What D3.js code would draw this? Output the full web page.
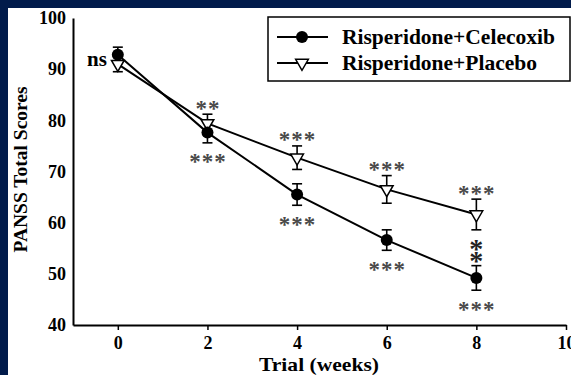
<!DOCTYPE html>
<html>
<head>
<meta charset="utf-8">
<script src="https://cdn.jsdelivr.net/npm/d3@7/dist/d3.min.js"></script>
<style>
  html, body { margin: 0; padding: 0; background: #011b4b; }
  svg { display: block; }
  text { font-family: "Liberation Serif", "Times New Roman", serif; font-weight: bold; fill: #000; }
</style>
</head>
<body>
<svg id="chart" width="571" height="375"></svg>
<script>
// ---- data ----
const weeks = [0, 2, 4, 6, 8];
const celecoxib = [92.8, 77.6, 65.5, 56.6, 49.2];
const celecoxibErr = [1.5, 2.0, 2.1, 2.0, 2.4];
const placebo = [91.0, 79.4, 72.7, 66.5, 61.6];
const placeboErr = [1.5, 1.8, 2.3, 2.7, 3.0];
const placeboSig = ["", "**", "***", "***", "***"];
const celecoxibSig = ["", "***", "***", "***", "***"];
const groupSig = ["ns", "", "", "", "**"];
const seriesNames = ["Risperidone+Celecoxib", "Risperidone+Placebo"];
const xTicks = [0, 2, 4, 6, 8, 10];
const yTicks = [40, 50, 60, 70, 80, 90, 100];

const svg = d3.select("#chart");
const W = 571, H = 375;
const FONT = "'Liberation Serif', 'Times New Roman', serif";

// white panel
svg.append("rect").attr("x", 8).attr("y", 8).attr("width", W - 8).attr("height", H - 8).attr("fill", "#fff");

const x = d3.scaleLinear().domain([-1, 10]).range([73, 566]);
const y = d3.scaleLinear().domain([40, 100]).range([325, 18]);

// axes
const xAxis = d3.axisBottom(x).tickValues(xTicks).tickSize(5).tickSizeOuter(0).tickPadding(6);
const gx = svg.append("g").attr("transform", `translate(0,${y(40)})`).call(xAxis)
  .attr("font-family", FONT).attr("font-size", 18);
gx.select(".domain").attr("stroke", "#000").attr("stroke-width", 2);
gx.selectAll(".tick line").attr("stroke", "#000").attr("stroke-width", 1.5);
gx.selectAll(".tick text").attr("fill", "#000").style("font-family", FONT).style("font-size", "18px");

const yAxis = d3.axisLeft(y).tickValues(yTicks).tickSize(0).tickSizeOuter(0).tickPadding(7);
const gy = svg.append("g").attr("transform", `translate(${x(-1)},0)`).call(yAxis)
  .attr("font-family", FONT).attr("font-size", 18);
gy.select(".domain").attr("stroke", "#000").attr("stroke-width", 2);
gy.selectAll(".tick text").attr("fill", "#000").style("font-family", FONT).style("font-size", "18px");

// axis titles
svg.append("text").attr("x", 319).attr("y", 370.5).attr("text-anchor", "middle")
  .attr("font-size", 19.5).attr("textLength", 120).attr("lengthAdjust", "spacingAndGlyphs")
  .text("Trial (weeks)");
svg.append("text").attr("transform", `translate(27,${(y(40) + y(100)) / 2 - 2}) rotate(-90)`)
  .attr("text-anchor", "middle").attr("font-size", 19.5).text("PANSS Total Scores");

// series
const line = d3.line().x(d => x(d[0])).y(d => y(d[1]));
const celData = weeks.map((w, i) => [w, celecoxib[i], celecoxibErr[i]]);
const plaData = weeks.map((w, i) => [w, placebo[i], placeboErr[i]]);

function errorBars(data) {
  const g = svg.append("g").attr("stroke", "#000").attr("stroke-width", 1.6);
  data.forEach(d => {
    const cx = x(d[0]);
    g.append("line").attr("x1", cx).attr("x2", cx).attr("y1", y(d[1] - d[2])).attr("y2", y(d[1] + d[2]));
    [d[1] - d[2], d[1] + d[2]].forEach(v => {
      g.append("line").attr("x1", cx - 5).attr("x2", cx + 5).attr("y1", y(v)).attr("y2", y(v));
    });
  });
}
errorBars(plaData);
errorBars(celData);

svg.append("path").datum(plaData).attr("d", line).attr("fill", "none").attr("stroke", "#000").attr("stroke-width", 2);
svg.append("path").datum(celData).attr("d", line).attr("fill", "none").attr("stroke", "#000").attr("stroke-width", 2);

const tri = d3.symbol().type(d3.symbolTriangle).size(70);
svg.selectAll(".tri").data(plaData).join("path")
  .attr("transform", d => `translate(${x(d[0])},${y(d[1])}) rotate(180)`)
  .attr("d", tri).attr("fill", "#fff").attr("stroke", "#000").attr("stroke-width", 1.5);
svg.selectAll(".dot").data(celData).join("circle")
  .attr("cx", d => x(d[0])).attr("cy", d => y(d[1])).attr("r", 6).attr("fill", "#000");

// significance marks
function star(text, cx, cy, fs, color, ls) {
  svg.append("text").attr("x", cx + ls / 2).attr("y", cy + fs * 0.5).attr("text-anchor", "middle")
    .attr("font-size", fs).attr("font-weight", "normal").attr("letter-spacing", ls)
    .style("fill", color).text(text);
}
weeks.forEach((w, i) => {
  if (placeboSig[i]) star(placeboSig[i], x(w), y(placebo[i] + placeboErr[i]) - 10, 23, "#4a4a4a", 1);
  if (celecoxibSig[i]) star(celecoxibSig[i], x(w), y(celecoxib[i] - celecoxibErr[i]) + 15, 23, "#4a4a4a", 1);
});
// group comparison
svg.append("text").attr("x", x(0) - 11).attr("y", y((celecoxib[0] + placebo[0]) / 2) + 7)
  .attr("text-anchor", "end").attr("font-size", 21).text(groupSig[0]);
// stacked asterisks between groups at week 8 (one text, two lines)
const stackFs = 28;
const stack = svg.append("text").attr("text-anchor", "middle").attr("font-size", stackFs)
  .attr("font-weight", "normal").style("fill", "#222");
groupSig[4].split("").forEach((s, k) => {
  stack.append("tspan").attr("x", x(8))
    .attr("y", y(placebo[4] - placeboErr[4]) + 14 + k * 12 + stackFs * 0.5).text(s);
});

// legend
const lg = svg.append("g");
lg.append("rect").attr("x", 268).attr("y", 17).attr("width", 302).attr("height", 64)
  .attr("fill", "#fff").attr("stroke", "#000").attr("stroke-width", 1.5);
seriesNames.forEach((name, i) => {
  const ly = 37 + i * 26;
  lg.append("line").attr("x1", 277).attr("x2", 328).attr("y1", ly).attr("y2", ly).attr("stroke", "#000").attr("stroke-width", 2);
  if (i === 0) lg.append("circle").attr("cx", 302).attr("cy", ly).attr("r", 6).attr("fill", "#000");
  else lg.append("path").attr("transform", `translate(302,${ly}) rotate(180)`).attr("d", tri)
    .attr("fill", "#fff").attr("stroke", "#000").attr("stroke-width", 1.5);
  lg.append("text").attr("x", 342).attr("y", ly + 7).attr("font-size", 21.5).text(name);
});
</script>
</body>
</html>
